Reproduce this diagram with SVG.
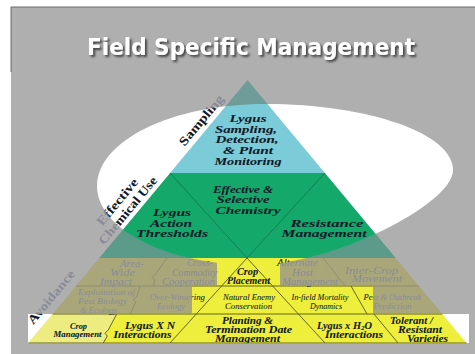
<svg xmlns="http://www.w3.org/2000/svg" width="475" height="354" viewBox="0 0 475 354">
<defs>
<style>
.t{font-family:"Liberation Serif","Times New Roman",serif;font-weight:bold;font-style:italic;fill:url(#pT);text-anchor:middle}
.r{font-weight:normal}
.f9{font-size:9px}.f10{font-size:9.5px}.f105{font-size:9.5px}.f12{font-size:10.5px}.f125{font-size:11px}
.lb{font-family:"Liberation Serif","Times New Roman",serif;font-weight:bold;font-size:12.5px;fill:url(#pTr);text-anchor:middle}
.ln{fill:none;stroke:url(#pL);stroke-width:0.9}
.lg{fill:none;stroke:url(#pG);stroke-width:0.9}
</style>
<g id="spot">
<path d="M97 186C97 140.7 172.2 104 265 104C368.8 104 453 133.5 453 170C453 205 330 265 255 265C167.7 265 97 229.6 97 186Z"/>
<rect x="217" y="256" width="63" height="31"/>
<rect x="192" y="286" width="181" height="28"/>
<rect x="28" y="314" width="441" height="29"/>
</g>
<pattern id="pT" patternUnits="userSpaceOnUse" width="475" height="354"><rect width="475" height="354" fill="#878a98"/><use href="#spot" fill="#101a26"/></pattern>
<pattern id="pTr" patternUnits="userSpaceOnUse" width="475" height="354" patternTransform="rotate(50.2)"><rect width="475" height="354" fill="#878a98"/><use href="#spot" fill="#101a26"/></pattern>
<pattern id="pC" patternUnits="userSpaceOnUse" width="475" height="354"><rect width="475" height="354" fill="#6e9d99"/><use href="#spot" fill="#7ccbd8"/></pattern>
<pattern id="pGr" patternUnits="userSpaceOnUse" width="475" height="354"><rect width="475" height="354" fill="#5c9a89"/><use href="#spot" fill="#14a96a"/></pattern>
<pattern id="pY" patternUnits="userSpaceOnUse" width="475" height="354"><rect width="475" height="354" fill="#a9a77a"/><use href="#spot" fill="#eeee3c"/></pattern>
<pattern id="pL" patternUnits="userSpaceOnUse" width="475" height="354"><rect width="475" height="354" fill="#8c8a6e"/><use href="#spot" fill="#55551a"/></pattern>
<pattern id="pG" patternUnits="userSpaceOnUse" width="475" height="354"><rect width="475" height="354" fill="#4d8a7a"/><use href="#spot" fill="#0c7a52"/></pattern>
<filter id="sh" x="-10%" y="-40%" width="120%" height="180%"><feDropShadow dx="2" dy="2" stdDeviation="1" flood-color="#333" flood-opacity="0.85"/></filter>
</defs>

<rect width="475" height="354" fill="#ffffff"/>
<rect x="11" y="7" width="464" height="347" fill="#afafaf"/>
<path d="M11 72V7H475" fill="none" stroke="#6a6a6a" stroke-width="1"/>

<text x="251" y="55" font-family="'DejaVu Sans',Verdana,sans-serif" font-weight="bold" font-size="23" fill="#ffffff" text-anchor="middle" textLength="328" lengthAdjust="spacingAndGlyphs" filter="url(#sh)">Field Specific Management</text>

<use href="#spot" fill="#ffffff"/>

<g id="pyramid">
<polygon points="247.5,80 324.9,173 170.1,173" fill="url(#pC)"/>
<polygon points="170.1,173 324.9,173 395.7,258 99.3,258" fill="url(#pGr)"/>
<polygon points="99.3,258 395.7,258 466.5,343 28.5,343" fill="url(#pY)"/>
<polygon points="52.6,314 116.7,314 108.3,330 105,333.3 107.3,336 103.3,343 28.5,343" fill="#ecec80"/>
</g>

<g id="connectors">
<path class="lg" d="M170.1 173L247 258M324.9 173L247 258"/>
<path class="ln" d="M76 286H419M52.6 314H442.4M28.5 343H466.5"/>
<path class="ln" d="M247 258L170 343M247 258L325 343"/>
<path class="ln" d="M167 258L155 275L151.7 277.3L155 280L153.3 286"/>
<path class="ln" d="M140 286L136.7 296.7L133.3 299.3L136 301.7L130 314"/>
<path class="ln" d="M116.7 314L108.3 330L105 333.3L107.3 336L103.3 343"/>
<path class="ln" d="M323 258L345 286"/>
<path class="ln" d="M351 286L367 314"/>
<path class="ln" d="M374 314L398 343"/>
</g>

<g id="sampling-detection" class="t f12">
<text x="248" y="122" textLength="37" lengthAdjust="spacingAndGlyphs">Lygus</text>
<text x="246" y="132.7" textLength="62" lengthAdjust="spacingAndGlyphs">Sampling,</text>
<text x="247" y="143.3" textLength="63" lengthAdjust="spacingAndGlyphs">Detection,</text>
<text x="248" y="154" textLength="50" lengthAdjust="spacingAndGlyphs">&amp; Plant</text>
<text x="248" y="164.5" textLength="67" lengthAdjust="spacingAndGlyphs">Monitoring</text>
</g>

<g id="selective-chemistry" class="t f125">
<text x="243" y="192.7" textLength="60" lengthAdjust="spacingAndGlyphs">Effective &amp;</text>
<text x="243" y="203.3" textLength="53" lengthAdjust="spacingAndGlyphs">Selective</text>
<text x="248" y="214.3" textLength="65" lengthAdjust="spacingAndGlyphs">Chemistry</text>
</g>

<g id="action-thresholds" class="t f125">
<text x="172" y="216" textLength="38" lengthAdjust="spacingAndGlyphs">Lygus</text>
<text x="171" y="226.7" textLength="42" lengthAdjust="spacingAndGlyphs">Action</text>
<text x="172" y="237.3" textLength="72" lengthAdjust="spacingAndGlyphs">Thresholds</text>
</g>

<g id="resistance-management" class="t f125">
<text x="327" y="226.7" textLength="73" lengthAdjust="spacingAndGlyphs">Resistance</text>
<text x="324" y="237.3" textLength="85" lengthAdjust="spacingAndGlyphs">Management</text>
</g>

<g id="area-wide" class="t f10 r">
<text x="132" y="267" textLength="24" lengthAdjust="spacingAndGlyphs">Area-</text>
<text x="122.5" y="276" textLength="25" lengthAdjust="spacingAndGlyphs">Wide</text>
<text x="116" y="285.3" textLength="32" lengthAdjust="spacingAndGlyphs">Impact</text>
</g>

<g id="cross-commodity" class="t f10 r">
<text x="200" y="266" textLength="26" lengthAdjust="spacingAndGlyphs">Cross-</text>
<text x="194.5" y="276" textLength="45" lengthAdjust="spacingAndGlyphs">Commodity</text>
<text x="188.5" y="285" textLength="53" lengthAdjust="spacingAndGlyphs">Cooperation</text>
</g>

<g id="crop-placement" class="t f10">
<text x="247.5" y="275" textLength="21" lengthAdjust="spacingAndGlyphs">Crop</text>
<text x="248.5" y="284" textLength="43" lengthAdjust="spacingAndGlyphs">Placement</text>
</g>

<g id="alternate-host" class="t f10 r">
<text x="297.5" y="266" textLength="41" lengthAdjust="spacingAndGlyphs">Alternate</text>
<text x="302.5" y="276" textLength="21" lengthAdjust="spacingAndGlyphs">Host</text>
<text x="310" y="285.3" textLength="56" lengthAdjust="spacingAndGlyphs">Management</text>
</g>

<g id="inter-crop" class="t f10 r">
<text x="371.5" y="273.5" textLength="53" lengthAdjust="spacingAndGlyphs">Inter-Crop</text>
<text x="377" y="282" textLength="50" lengthAdjust="spacingAndGlyphs">Movement</text>
</g>

<g id="exploitation" class="t f9 r">
<text x="106.5" y="295" textLength="57" lengthAdjust="spacingAndGlyphs">Exploitation of</text>
<text x="102.5" y="304" textLength="49" lengthAdjust="spacingAndGlyphs">Pest Biology</text>
<text x="98.5" y="312.5" textLength="37" lengthAdjust="spacingAndGlyphs">&amp; Ecology</text>
</g>

<g id="over-wintering" class="t f9 r">
<text x="177.5" y="300" textLength="55" lengthAdjust="spacingAndGlyphs">Over-Wintering</text>
<text x="171" y="309" textLength="28" lengthAdjust="spacingAndGlyphs">Ecology</text>
</g>

<g id="natural-enemy" class="t f9 r">
<text x="249" y="300" textLength="52" lengthAdjust="spacingAndGlyphs">Natural Enemy</text>
<text x="248.5" y="308.5" textLength="47" lengthAdjust="spacingAndGlyphs">Conservation</text>
</g>

<g id="in-field" class="t f9 r">
<text x="320" y="300" textLength="57" lengthAdjust="spacingAndGlyphs">In-field Mortality</text>
<text x="326" y="309" textLength="32" lengthAdjust="spacingAndGlyphs">Dynamics</text>
</g>

<g id="pest-outbreak" class="t f9 r">
<text x="392.5" y="300" textLength="58" lengthAdjust="spacingAndGlyphs">Pest &amp; Outbreak</text>
<text x="392.5" y="308.5" textLength="38" lengthAdjust="spacingAndGlyphs">Prediction</text>
</g>

<g id="crop-management" class="t f9">
<text x="78.5" y="328.5" textLength="17" lengthAdjust="spacingAndGlyphs">Crop</text>
<text x="77.5" y="337" textLength="48" lengthAdjust="spacingAndGlyphs">Management</text>
</g>

<g id="lygus-n" class="t f105">
<text x="150" y="328.5" textLength="50" lengthAdjust="spacingAndGlyphs">Lygus X N</text>
<text x="142.5" y="337.5" textLength="58" lengthAdjust="spacingAndGlyphs">Interactions</text>
</g>

<g id="planting" class="t f105">
<text x="247.5" y="324" textLength="51" lengthAdjust="spacingAndGlyphs">Planting &amp;</text>
<text x="248.5" y="333.3" textLength="87" lengthAdjust="spacingAndGlyphs">Termination Date</text>
<text x="247.5" y="342.2" textLength="65" lengthAdjust="spacingAndGlyphs">Management</text>
</g>

<g id="lygus-h2o" class="t f105">
<text x="344.5" y="328.5" textLength="55" lengthAdjust="spacingAndGlyphs">Lygus x H<tspan font-size="6.5" dy="1.5">2</tspan><tspan dy="-1.5">O</tspan></text>
<text x="354" y="338.3" textLength="58" lengthAdjust="spacingAndGlyphs">Interactions</text>
</g>

<g id="tolerant" class="t f105">
<text x="411.5" y="323.5" textLength="43" lengthAdjust="spacingAndGlyphs">Tolerant /</text>
<text x="420" y="333.3" textLength="44" lengthAdjust="spacingAndGlyphs">Resistant</text>
<text x="427.5" y="342.3" textLength="41" lengthAdjust="spacingAndGlyphs">Varieties</text>
</g>

<g id="edge-labels" transform="rotate(-50.2)">
<text id="label-sampling" class="lb" x="36.5" y="235.7" textLength="62" lengthAdjust="spacingAndGlyphs">Sampling</text>
<g id="label-chemical">
<text class="lb" x="-80" y="223.5" textLength="57" lengthAdjust="spacingAndGlyphs">Effective</text>
<text class="lb" x="-80" y="237" textLength="84" lengthAdjust="spacingAndGlyphs">Chemical Use</text>
</g>
<text id="label-avoidance" class="lb" x="-195.5" y="233.6" textLength="66" lengthAdjust="spacingAndGlyphs">Avoidance</text>
</g>
</svg>
